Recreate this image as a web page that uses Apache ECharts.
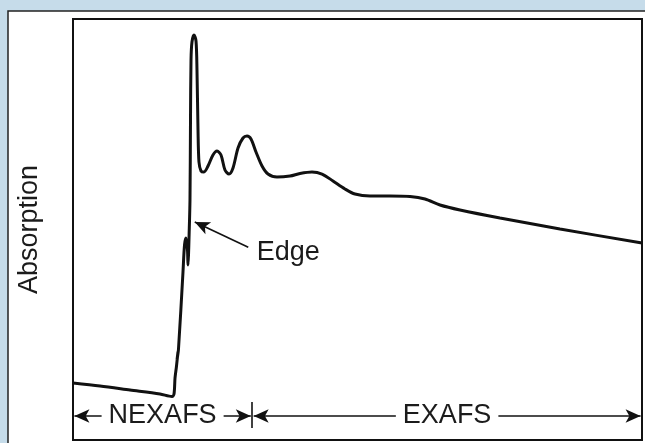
<!DOCTYPE html>
<html>
<head>
<meta charset="utf-8">
<script src="https://cdn.jsdelivr.net/npm/echarts@6/dist/echarts.min.js"></script>
<style>
html,body{margin:0;padding:0;background:#c6dcea;}
#chart{width:645px;height:443px;}
</style>
</head>
<body>
<div id="chart"></div>
<script>
// Photon energy (arbitrary units, 0..100) and absorption (arbitrary units, 0..100)
var energy = [0, 4.75, 10.02, 15.29, 17.40, 17.75, 17.93, 18.19, 18.45, 18.28, 18.54, 19.33, 19.60, 19.86, 20.12, 20.21, 20.30, 20.39, 20.56, 20.65, 20.74, 20.91, 21.27, 21.62, 21.79, 21.97, 22.14, 22.50, 23.02, 23.73, 24.60, 25.31, 26.01, 26.71, 27.42, 28.12, 29.00, 29.88, 30.58, 31.28, 32.16, 33.22, 34.27, 35.85, 38.14, 39.89, 42.00, 43.76, 45.69, 47.80, 49.56, 52.20, 55.71, 59.23, 61.86, 64.50, 68.01, 75.04, 85.59, 100];
var absorption = [13.54, 12.83, 11.88, 10.93, 10.33, 10.93, 14.73, 17.58, 20.90, 19.00, 21.62, 39.90, 46.32, 47.98, 45.13, 41.57, 43.94, 47.98, 57.01, 76.01, 90.26, 94.54, 96.20, 94.77, 87.89, 73.63, 66.03, 63.90, 63.66, 65.08, 67.70, 68.65, 67.70, 64.13, 63.18, 64.61, 69.36, 71.73, 72.21, 71.50, 68.41, 65.08, 63.18, 62.47, 62.71, 63.30, 63.66, 63.18, 61.52, 59.62, 58.43, 57.96, 57.96, 57.84, 57.24, 55.82, 54.63, 52.73, 50.12, 46.79];

var regionNames = ['NEXAFS', 'EXAFS'];
var regionStart = [0, 31.5];
var regionEnd = [31.5, 100];
var regionArrowLevel = 5.7;
var dividerRange = [2.85, 9.0];

var edgeLabel = 'Edge';
var edgeArrowFrom = [30.8, 45.8];
var edgeArrowTo = [21.4, 51.8];
var edgeLabelAt = [32.2, 44.6];

var yName = 'Absorption';

var FONT = '"Liberation Sans", Arial, Helvetica, sans-serif';
var INK = '#1b1b1b';

var curve = energy.map(function (e, i) { return [e, absorption[i]]; });

var markLines = [];
regionNames.forEach(function (n, i) {
  markLines.push([
    { coord: [regionStart[i] + 0.25, regionArrowLevel], symbol: 'arrow', name: n,
      label: { show: true, formatter: n, position: 'insideMiddle', color: INK, fontSize: 27, fontFamily: FONT,
               backgroundColor: '#fff', padding: [0, 7] } },
    { coord: [regionEnd[i] - 0.25, regionArrowLevel], symbol: 'arrow' }
  ]);
});
markLines.push([
  { coord: [regionEnd[0], dividerRange[0]], symbol: 'none', label: { show: false } },
  { coord: [regionEnd[0], dividerRange[1]], symbol: 'none' }
]);
markLines.push([
  { coord: edgeArrowFrom, symbol: 'none', label: { show: false } },
  { coord: edgeArrowTo, symbol: 'arrow' }
]);

var chart = echarts.init(document.getElementById('chart'), null, { renderer: 'canvas' });
chart.setOption({
  animation: false,
  backgroundColor: '#c6dcea',
  graphic: [{
    type: 'rect', z: -5,
    shape: { x: 8, y: 11, width: 700, height: 500 },
    style: { fill: '#ffffff', stroke: '#222', lineWidth: 1.5 }
  }],
  grid: { left: 73, top: 19, right: 3, bottom: 3, show: true, backgroundColor: '#fff', borderColor: '#111', borderWidth: 2 },
  xAxis: { type: 'value', min: 0, max: 100, axisLine: { show: false }, axisTick: { show: false }, axisLabel: { show: false }, splitLine: { show: false } },
  yAxis: { type: 'value', min: 0, max: 100, name: yName, nameLocation: 'middle', nameRotate: 90, nameGap: 30,
           nameTextStyle: { fontSize: 27, fontFamily: FONT, color: INK },
           axisLine: { show: false }, axisTick: { show: false }, axisLabel: { show: false }, splitLine: { show: false } },
  series: [{
    type: 'line', data: curve, smooth: 0.3, showSymbol: false, symbol: 'none',
    lineStyle: { color: '#111', width: 3 },
    markLine: {
      silent: true, symbolSize: [10, 15],
      lineStyle: { color: '#111', width: 1.6, type: 'solid' },
      label: { show: false },
      data: markLines
    },
    markPoint: {
      silent: true, symbol: 'circle', symbolSize: 1, itemStyle: { color: 'rgba(0,0,0,0)' },
      data: [{ coord: edgeLabelAt, label: { show: true, position: 'right', distance: 0, formatter: edgeLabel, color: INK, fontSize: 27, fontFamily: FONT } }]
    }
  }]
});
</script>
</body>
</html>
